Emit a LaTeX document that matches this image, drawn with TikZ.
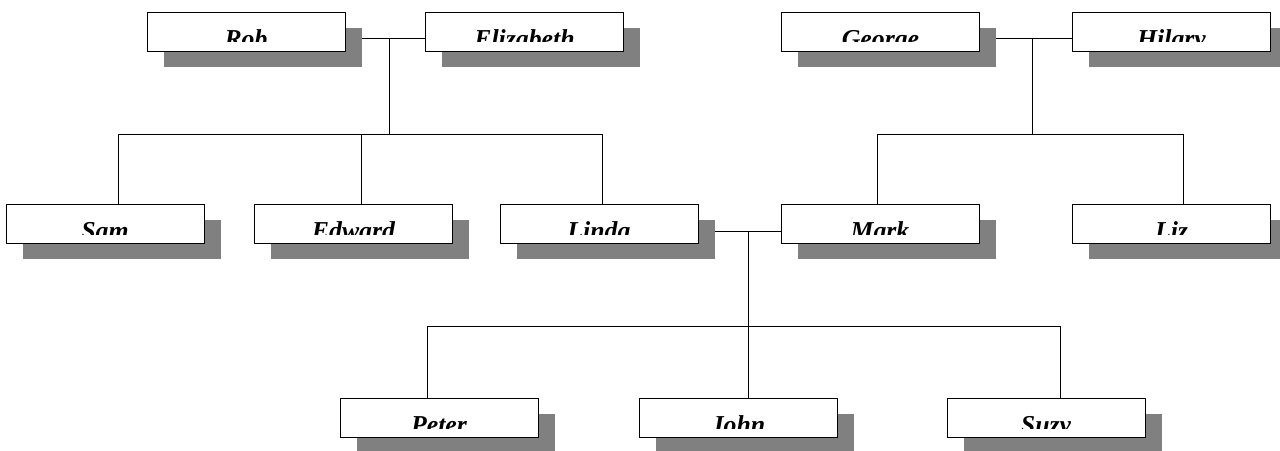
\documentclass[tikz,border=0pt]{standalone}
\usepackage{fontspec}
\setmainfont{Liberation Serif}
\usetikzlibrary{shadows,backgrounds}

\tikzset{
  person/.style={draw, fill=white, line width=0.7pt, minimum width=5.94cm, minimum height=1.17cm, inner sep=0pt,
    drop shadow={shadow xshift=0.5cm, shadow yshift=-0.48cm, fill=gray, opacity=1},
    path picture={
      \clip (path picture bounding box.north west) rectangle ([yshift=0.27cm]path picture bounding box.south east);
      \node[anchor=base, inner sep=0pt, font=\fontsize{22}{24}\selectfont\bfseries\itshape]
        at ([yshift=0.12cm]path picture bounding box.south) {#1};
    }},
  link/.style={line width=0.7pt}
}

\begin{document}
\begin{tikzpicture}[x=0.03cm, y=-0.03cm]
\useasboundingbox (0,0) rectangle (1280,451);
% parents
\node[person=Rob] (rob) at (246,31.5) {};
\node[person=Elizabeth] (elizabeth) at (524.5,31.5) {};
\node[person=George] (george) at (880.5,31.5) {};
\node[person=Hilary] (hilary) at (1171.5,31.5) {};
% children
\node[person=Sam] (sam) at (105,223.5) {};
\node[person=Edward] (edward) at (353.5,223.5) {};
\node[person=Linda] (linda) at (599,223.5) {};
\node[person=Mark] (mark) at (880,223.5) {};
\node[person=Liz] (liz) at (1171.5,223.5) {};
% grandchildren
\node[person=Peter] (peter) at (439,417.5) {};
\node[person=John] (john) at (738,417.5) {};
\node[person=Suzy] (suzy) at (1046,417.5) {};

\begin{scope}[on background layer]
\coordinate (re) at (389,38);
\coordinate (rekids) at (389,134);
\draw[link] ([yshift=-0.2cm]rob.east) -- ([yshift=-0.2cm]elizabeth.west);
\draw[link] (re) -- (rekids);
\draw[link] ([xshift=0.39cm]sam.north) |- (rekids);
\draw[link] ([xshift=0.225cm]edward.north) |- (rekids);
\draw[link] ([xshift=0.09cm]linda.north) |- (rekids);

\coordinate (gh) at (1032,38);
\coordinate (ghkids) at (1032,134);
\draw[link] ([yshift=-0.2cm]george.east) -- ([yshift=-0.2cm]hilary.west);
\draw[link] (gh) -- (ghkids);
\draw[link] ([xshift=-0.09cm]mark.north) |- (ghkids);
\draw[link] ([xshift=0.345cm]liz.north) |- (ghkids);

\coordinate (lm) at (748,232);
\coordinate (lmkids) at (748,326);
\draw[link] ([yshift=-0.25cm]linda.east) -- ([yshift=-0.25cm]mark.west);
\draw[link] (lm) -- (lmkids);
\draw[link] ([xshift=-0.36cm]peter.north) |- (lmkids);
\draw[link] ([xshift=0.3cm]john.north) |- (lmkids);
\draw[link] ([xshift=0.42cm]suzy.north) |- (lmkids);
\end{scope}
\end{tikzpicture}
\end{document}
